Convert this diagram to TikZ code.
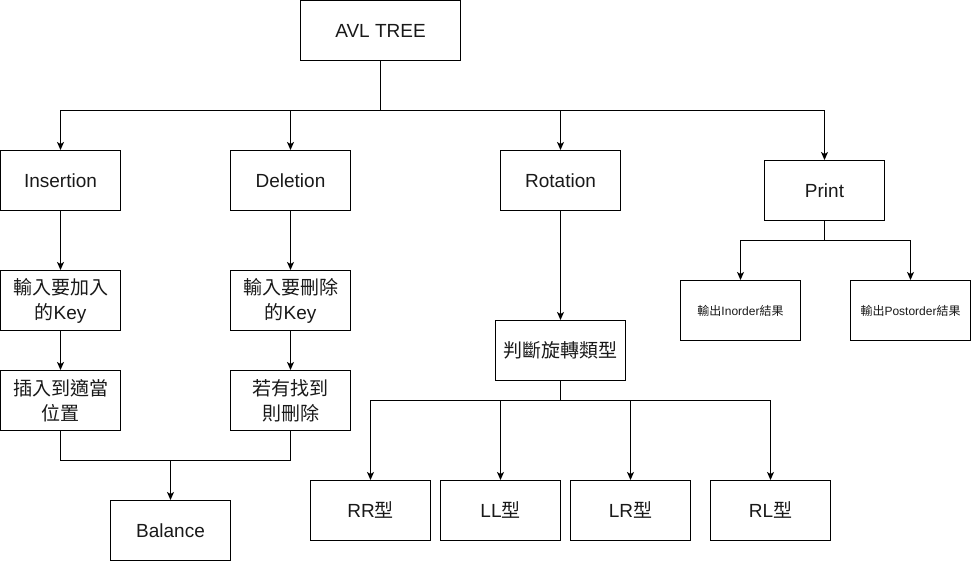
\documentclass[tikz,border=0pt]{standalone}
\usepackage{fontspec}
\setmainfont{Liberation Sans}
\newfontfamily\cjk{Noto Sans CJK TC}
\usetikzlibrary{arrows.meta}
\begin{document}
\begin{tikzpicture}[x=1pt,y=-1pt,
  box/.style={draw=black,line width=1pt,minimum width=120pt,minimum height=60pt,inner sep=0pt,
    font=\fontsize{19}{25}\selectfont,align=center,text=black!90},
  smallbox/.style={box,font=\fontsize{12}{14}\selectfont},
  wide/.style={minimum width=130pt},
  conn/.style={draw=black,line width=1pt},
  arr/.style={conn,-{Stealth[length=8pt,width=7pt,inset=2pt]}}]
\useasboundingbox (0,0) rectangle (971,561);
\node[box,minimum width=160pt] (avl) at (380.5,30.5) {AVL TREE};
\node[box] (ins) at (60.5,180.5) {Insertion};
\node[box] (del) at (290.5,180.5) {Deletion};
\node[box] (rot) at (560.5,180.5) {Rotation};
\node[box] (prt) at (824.5,190.5) {Print};
\node[box] (ins1) at (60.5,300.5) {{\cjk 輸入要加入}\\{\cjk 的}Key};
\node[box] (del1) at (290.5,300.5) {{\cjk 輸入要刪除}\\{\cjk 的}Key};
\node[box] (ins2) at (60.5,400.5) {{\cjk 插入到適當}\\{\cjk 位置}};
\node[box] (del2) at (290.5,400.5) {{\cjk 若有找到}\\{\cjk 則刪除}};
\node[box] (bal) at (170.5,530.5) {Balance};
\node[box,wide] (typ) at (560.5,350.5) {{\cjk 判斷旋轉類型}};
\node[box] (rr) at (370.5,510.5) {RR{\cjk 型}};
\node[box] (ll) at (500.5,510.5) {LL{\cjk 型}};
\node[box] (lr) at (630.5,510.5) {LR{\cjk 型}};
\node[box] (rl) at (770.5,510.5) {RL{\cjk 型}};
\node[smallbox] (ino) at (740.5,310.5) {{\cjk 輸出}Inorder{\cjk 結果}};
\node[smallbox] (pos) at (910.5,310.5) {{\cjk 輸出}Postorder{\cjk 結果}};
\coordinate (j1) at (380.5,110.5);
\coordinate (j2) at (170.5,460.5);
\coordinate (j3) at (560.5,400.5);
\coordinate (j4) at (824.5,240.5);
% top level
\draw[arr] (avl.south) -- (j1) -| (ins.north);
\draw[arr] (j1) -| (del.north);
\draw[arr] (j1) -| (rot.north);
\draw[arr] (j1) -| (prt.north);
% insertion / deletion chains
\draw[arr] (ins.south) -- (ins1.north);
\draw[arr] (ins1.south) -- (ins2.north);
\draw[arr] (del.south) -- (del1.north);
\draw[arr] (del1.south) -- (del2.north);
\draw[conn] (ins2.south) |- (j2);
\draw[conn] (del2.south) |- (j2);
\draw[arr] (j2) -- (bal.north);
% rotation
\draw[arr] (rot.south) -- (typ.north);
\draw[conn] (typ.south) -- (j3);
\draw[arr] (j3) -| (rr.north);
\draw[arr] (j3) -| (ll.north);
\draw[arr] (j3) -| (lr.north);
\draw[arr] (j3) -| (rl.north);
% print
\draw[conn] (prt.south) -- (j4);
\draw[arr] (j4) -| (ino.north);
\draw[arr] (j4) -| (pos.north);
\end{tikzpicture}
\end{document}
